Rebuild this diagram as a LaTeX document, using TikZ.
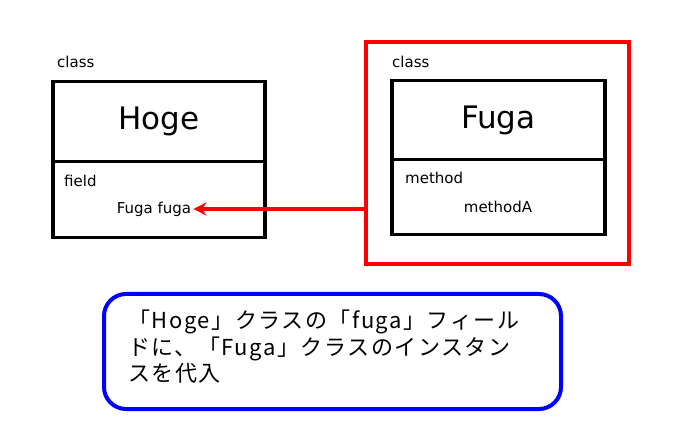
\documentclass[tikz,border=0pt]{standalone}
\usetikzlibrary{arrows.meta}
\usepackage{fontspec}
\setmainfont{DejaVu Sans}
\newfontfamily\cjk[LetterSpace=7]{Noto Sans CJK JP}
\begin{document}
\begin{tikzpicture}[x=1pt,y=-1pt,
  box/.style={draw=black,line width=3.5pt},
  small/.style={font=\fontsize{15}{17}\selectfont,inner sep=0pt},
  big/.style={font=\fontsize{31}{34}\selectfont,inner sep=0pt}]
\useasboundingbox[fill=white] (0,0) rectangle (680,446);
% Hoge
\node[box,minimum width=212,minimum height=80,anchor=north west,inner sep=0] (hogehead) at (51,80) {};
\node[box,minimum width=212,minimum height=76,anchor=north west,inner sep=0] (hogebody) at (51,160) {};
\node[big] (hoge) at (hogehead.center) {Hoge};
\node[small,anchor=west] (hc) at (57,62) {class};
\node[small,anchor=west] (field) at (64,181) {field};
\node[small] (fugafuga) at (154,209) {Fuga fuga};
% red frame
\node[draw=red,line width=4pt,minimum width=263,minimum height=222,anchor=north west,inner sep=0] (frame) at (364,40) {};
\node[box,minimum width=213,minimum height=79,anchor=north west,inner sep=0] (fugahead) at (390,79) {};
\node[box,minimum width=213,minimum height=75,anchor=north west,inner sep=0] (fugabody) at (390,158) {};
\node[big] (fuga) at (fugahead.center) {Fuga};
\node[small,anchor=west] (fc) at (392,62) {class};
\node[small,anchor=west] (method) at (405,178) {method};
\node[small] (methodA) at (498,207) {methodA};
\coordinate (src) at (frame.west |- fugafuga);
\draw[red,line width=3.5pt,-{Stealth[length=13pt,width=13pt]}] (src) -- ([xshift=2]fugafuga.east);
% note
\node[draw=blue,line width=4pt,rounded corners=22pt,minimum width=457,minimum height=115,anchor=north west,inner sep=0] (note) at (102,292) {};
\node[anchor=north west,inner sep=0,align=left,font=\cjk\fontsize{22}{26.5}\selectfont] (notetext) at (128,310) {「Hoge」クラスの「fuga」フィール\\ドに、「Fuga」クラスのインスタン\\スを代入};
\end{tikzpicture}
\end{document}
